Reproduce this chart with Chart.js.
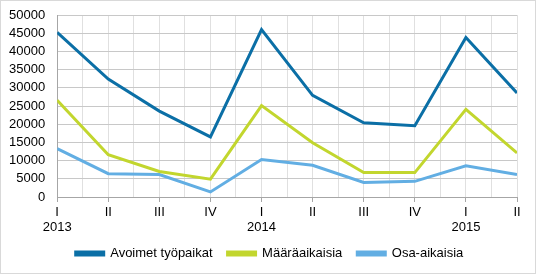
<!DOCTYPE html>
<html>
<head>
<meta charset="utf-8">
<script src="https://cdn.jsdelivr.net/npm/chart.js@4"></script>
<style>
    html, body { margin: 0; padding: 0; background: #ffffff; }
    .chart-box {
        position: relative;
        width: 534px;
        height: 272px;
        border: 1px solid #D9D9D9;
    }
</style>
</head>
<body>
<div class="chart-box">
    <canvas id="jobsChart"></canvas>
</div>
<script>
// Quarter labels and year labels (shown on second row)
const quarters = ['I', 'II', 'III', 'IV', 'I', 'II', 'III', 'IV', 'I', 'II'];
const years = ['2013', '', '', '', '2014', '', '', '', '2015', ''];

// Series values
const avoimet = [45200, 32400, 23600, 16500, 46000, 27900, 20400, 19600, 43800, 28600];
const maaraaikaisia = [26600, 11600, 7000, 4900, 25100, 14900, 6700, 6700, 24100, 12100];
const osaaikaisia = [13300, 6400, 6150, 1400, 10300, 8700, 4000, 4300, 8600, 6150];

// Y axis ticks
const yMin = 0;
const yMax = 50000;
const yStep = 5000;

function toPoints(values) {
    return values.map((v, i) => ({ x: i, y: v }));
}

// Nudge the legend row: a bit shorter, slightly higher and centred on the page
const legendTweak = {
    id: 'legendTweak',
    afterInit(chart) {
        const legend = chart.legend;
        const fit = legend.fit;
        legend.fit = function() {
            fit.call(this);
            this.height -= 3;
        };
    },
    afterLayout(chart) {
        const l = chart.legend;
        l.top -= 6;
        l.left += 8;
        l.right += 8;
    }
};

document.addEventListener('DOMContentLoaded', function() {
    initializeJobsChart();
});

function initializeJobsChart() {
    const ctx = document.getElementById('jobsChart');
    if (!ctx) return;

    const fontFamily = "'Liberation Sans', Arial, sans-serif";
    const baseFont = { family: fontFamily, size: 13 };

    const config = {
        type: 'line',
        data: {
            datasets: [{
                label: 'Avoimet työpaikat',
                data: toPoints(avoimet),
                borderColor: '#0B6FA6',
                backgroundColor: '#0B6FA6',
                borderWidth: 3,
                pointRadius: 0,
                tension: 0
            }, {
                label: 'Määräaikaisia',
                data: toPoints(maaraaikaisia),
                borderColor: '#C2D62E',
                backgroundColor: '#C2D62E',
                borderWidth: 3,
                pointRadius: 0,
                tension: 0
            }, {
                label: 'Osa-aikaisia',
                data: toPoints(osaaikaisia),
                borderColor: '#62AEE3',
                backgroundColor: '#62AEE3',
                borderWidth: 3,
                pointRadius: 0,
                tension: 0
            }]
        },
        options: {
            responsive: true,
            maintainAspectRatio: false,
            animation: false,
            layout: {
                padding: { left: 5, right: 18, top: 14, bottom: 0 }
            },
            plugins: {
                legend: {
                    position: 'bottom',
                    labels: {
                        color: '#000000',
                        font: baseFont,
                        boxWidth: 28,
                        boxHeight: 3,
                        padding: 15
                    }
                },
                tooltip: { enabled: false }
            },
            scales: {
                x: {
                    type: 'linear',
                    min: 0,
                    max: quarters.length - 1,
                    afterBuildTicks: function(axis) {
                        // ticks at every quarter plus half-way gridlines
                        const ticks = [];
                        for (let i = 0; i <= (quarters.length - 1) * 2; i++) {
                            ticks.push({ value: i / 2 });
                        }
                        axis.ticks = ticks;
                    },
                    border: { color: '#A6A6A6', width: 1 },
                    grid: {
                        color: '#E0E0E0',
                        tickColor: function(c) {
                            return Number.isInteger(c.tick.value) ? '#A6A6A6' : 'rgba(0,0,0,0)';
                        },
                        tickLength: 5,
                        borderDash: [3, 2]
                    },
                    ticks: {
                        color: '#000000',
                        font: { family: fontFamily, size: 13, lineHeight: '15px' },
                        maxRotation: 0,
                        autoSkip: false,
                        padding: 3,
                        callback: function(value) {
                            if (!Number.isInteger(value)) return '';
                            return years[value] ? [quarters[value], years[value]] : quarters[value];
                        }
                    }
                },
                y: {
                    min: yMin,
                    max: yMax,
                    border: { color: '#A6A6A6', width: 1 },
                    grid: {
                        color: '#C8C8C8',
                        borderDash: [3, 1],
                        tickLength: 9,
                        tickColor: 'rgba(0,0,0,0)'
                    },
                    ticks: {
                        stepSize: yStep,
                        autoSkip: false,
                        color: '#000000',
                        font: baseFont,
                        padding: 3,
                        callback: function(value) {
                            return String(value);
                        }
                    }
                }
            }
        },
        plugins: [legendTweak]
    };

    new Chart(ctx, config);
}
</script>
</body>
</html>
